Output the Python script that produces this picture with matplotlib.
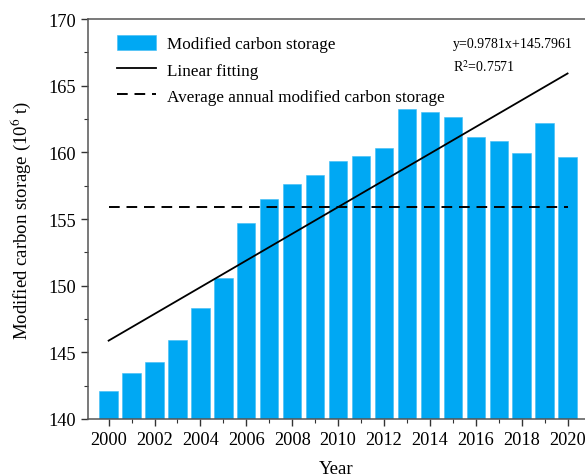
import matplotlib.pyplot as plt
import numpy as np

plt.rcParams['font.family'] = ['Liberation Serif', 'DejaVu Serif']
plt.rcParams['mathtext.fontset'] = 'stix'

years = np.arange(2000, 2021)
storage = [142.08, 143.45, 144.28, 145.90, 148.30, 150.60, 154.73, 156.53,
           157.60, 158.30, 159.38, 159.70, 160.33, 163.23, 163.03, 162.65,
           161.13, 160.85, 159.95, 162.18, 159.63]
equation = "y=0.9781x+145.7961"
r_squared = "R$^2$=0.7571"

# linear trend and multi-year mean
slope, intercept = np.polyfit(years - years[0], storage, 1)
fit = intercept + slope * (years - years[0])
mean_storage = np.mean(storage)

fig = plt.figure(figsize=(5.85, 4.77), dpi=100)
ax = fig.add_axes([0.150, 0.1195, 0.85, 0.8385])

bars = ax.bar(years, np.array(storage) - 140, bottom=140, width=0.8, color='#00a8f3',
              edgecolor='#3fbcf5', linewidth=0.4, label='Modified carbon storage', zorder=2)
fit_line, = ax.plot(years, fit, color='black', linewidth=1.3, label='Linear fitting', zorder=3)
mean_line, = ax.plot([years[0], years[-1]], [mean_storage, mean_storage], color='black',
                     linewidth=1.4, linestyle=(0, (5.5, 3.5)),
                     label='Average annual modified carbon storage', zorder=3)

ax.set_xlim(1999.09, 2020.76)
ax.set_ylim(140, 170)
ax.set_xticks(np.arange(2000, 2021, 2))
ax.set_xticks(years, minor=True)
ax.set_yticks(np.arange(140, 171, 5))
ax.set_yticks(np.arange(140, 170, 2.5), minor=True)
ax.tick_params(axis='both', which='major', direction='out', length=5, width=1,
               labelsize=13.2, colors='#333333', labelcolor='black')
ax.tick_params(axis='both', which='minor', direction='out', length=3, width=0.8,
               colors='#333333')

for side in ('left', 'bottom', 'top'):
    ax.spines[side].set_color('#555555')
    ax.spines[side].set_linewidth(1.1)
ax.spines['right'].set_visible(False)

ax.set_xlabel('Year', fontsize=13.5, labelpad=9)
ax.set_ylabel('Modified carbon storage (10$^6$ t)', fontsize=13.5, labelpad=11)

ax.legend(handles=[bars, fit_line, mean_line], loc='upper left',
          bbox_to_anchor=(0.035, 0.99), frameon=False,
          fontsize=12.3, handlelength=2.3, handleheight=1.0, labelspacing=0.5,
          handletextpad=0.6, borderaxespad=0.3)

ax.text(0.735, 0.93, equation, transform=ax.transAxes, fontsize=10)
ax.text(0.735, 0.87, r_squared, transform=ax.transAxes, fontsize=10)

fig.savefig('out.png', dpi=100)
plt.close(fig)
